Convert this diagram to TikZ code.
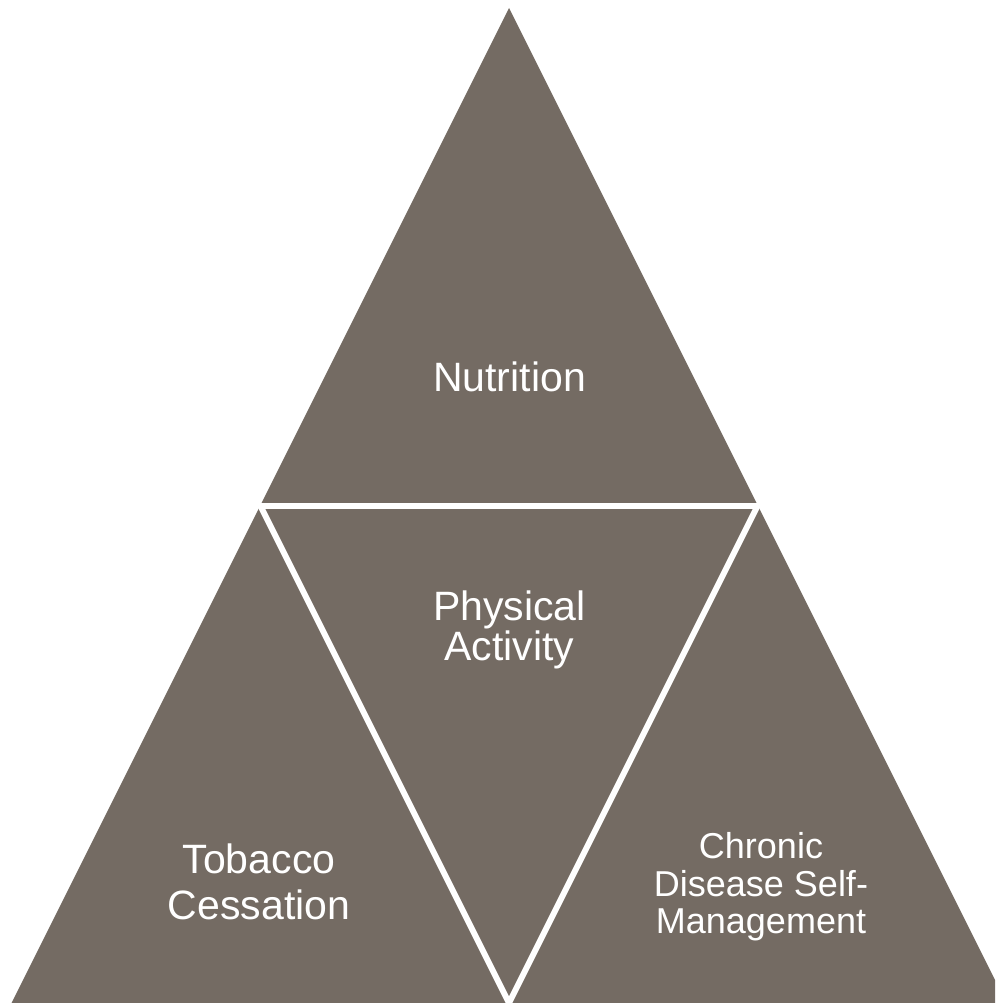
\documentclass[tikz,border=0pt]{standalone}
\usepackage{fontspec}
\setmainfont{Liberation Sans}
\usetikzlibrary{positioning}
\definecolor{pyramidtaupe}{RGB}{116, 107, 99}

\tikzset{
    label text/.style={text=white, align=center, inner sep=0pt},
    gap line/.style={white, line width=6pt}
}

\begin{document}
\begin{tikzpicture}[x=1pt, y=-1pt]
    \useasboundingbox (0,0) rectangle (995,1003);
    \clip (0,0) rectangle (995,1003);

    % corners of the big triangle
    \coordinate (Top) at (509, 8);
    \coordinate (BL) at (11.5, 1003);
    \coordinate (BR) at (1006.5, 1003);
    % midpoints of the sides
    \coordinate (ML) at (260.25, 505.5);
    \coordinate (MR) at (757.75, 505.5);
    \coordinate (BM) at (509, 1003);

    % whole triangle, then white gaps to split it in four
    \fill[pyramidtaupe] (Top) -- (BR) -- (BL) -- cycle;
    \draw[gap line] (ML) -- (MR);
    \draw[gap line] (ML) -- (BM);
    \draw[gap line] (MR) -- (BM);

    % labels
    \node[label text, font=\fontsize{41}{37}\selectfont] (nutrition) at (509.5, 377) {Nutrition};
    \node[label text, font=\fontsize{41}{37}\selectfont] (physical) at (509.5, 630) {Physical\\Activity};
    \node[label text, font=\fontsize{41}{46}\selectfont] (tobacco) at (259, 882) {Tobacco\\Cessation};
    \node[label text, font=\fontsize{36}{37.5}\selectfont] (chronic) at (761, 887) {Chronic\\Disease Self-\\Management};
\end{tikzpicture}
\end{document}
